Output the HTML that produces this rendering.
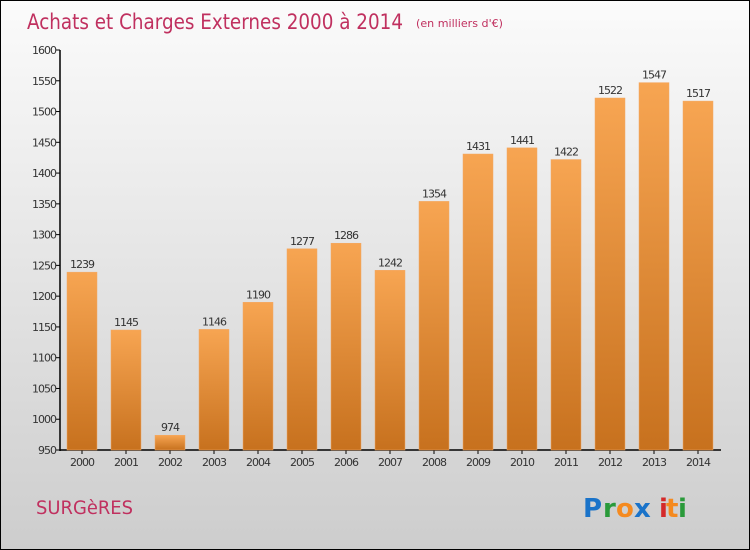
<!DOCTYPE html>
<html><head><meta charset="utf-8"><style>
html,body{margin:0;padding:0;}
body{width:750px;height:550px;overflow:hidden;font-family:"DejaVu Sans","Liberation Sans",sans-serif;}
#wrap{position:absolute;left:0;top:0;width:748px;height:548px;border:1px solid #000;background:linear-gradient(#fbfbfb,#cdcdcd);}
</style></head><body>
<div id="wrap">
<svg width="750" height="550" style="position:absolute;left:-1px;top:-1px">
<defs>
<linearGradient id="bg" x1="0" y1="0" x2="0" y2="1"><stop offset="0" stop-color="#f7a552"/><stop offset="1" stop-color="#c7711e"/></linearGradient>
</defs>
<text x="27" y="29" font-size="21" fill="#c0305f" textLength="376" lengthAdjust="spacingAndGlyphs">Achats et Charges Externes 2000 à 2014</text>
<text x="416" y="27" font-size="11" fill="#c0305f" textLength="87" lengthAdjust="spacingAndGlyphs">(en milliers d'€)</text>
<g id="axes"></g>
<g id="bars"></g>
<text x="36" y="514" font-size="19" fill="#c0305f" textLength="97" lengthAdjust="spacingAndGlyphs">SURGèRES</text>
<g font-size="26" font-family="DejaVu Sans,sans-serif" font-weight="bold">
<text x="583" y="517" fill="#1a73c9">P</text><text x="603" y="517" fill="#2a9a3a">r</text><text x="616" y="517" fill="#f58a1f">o</text><text x="634" y="517" fill="#1a73c9">x</text><text x="659" y="517" fill="#d42a2a">i</text><text x="666" y="517" fill="#f58a1f">t</text><text x="678" y="517" fill="#2a9a3a">i</text>
</g>
</svg>
</div>
<script>
const years=["2000","2001","2002","2003","2004","2005","2006","2007","2008","2009","2010","2011","2012","2013","2014"];
const values=[1239,1145,974,1146,1190,1277,1286,1242,1354,1431,1441,1422,1522,1547,1517];
const yTicks=[950,1000,1050,1100,1150,1200,1250,1300,1350,1400,1450,1500,1550,1600];
const NS="http://www.w3.org/2000/svg";
const x0=60,band=44,yMin=950,yMax=1600,yTop=50,yBot=450;
function y(v){return yBot-(v-yMin)/(yMax-yMin)*(yBot-yTop);}
function xc(i){return x0+band*i+band/2;}
function mk(tag,attrs,parent,txt){const e=document.createElementNS(NS,tag);for(const k in attrs)e.setAttribute(k,attrs[k]);if(txt!==undefined)e.textContent=txt;parent.appendChild(e);return e;}
const axes=document.getElementById('axes'),bars=document.getElementById('bars');
yTicks.forEach(t=>{
  const l=mk('line',{x1:x0-4,x2:x0,y1:y(t),y2:y(t),stroke:'#000'},axes);
  
  
  const tx=mk('text',{x:x0-4,y:y(t)+4,'text-anchor':'end','font-size':11,fill:'#333','letter-spacing':'-1'},axes,t);
  
  
});
years.forEach((yr,i)=>{
  const v=values[i];
  const r=mk('rect',{x:xc(i)-15,y:y(v),width:30,height:yBot-y(v),fill:'url(#bg)',stroke:'#f2a865','stroke-width':0.5},bars);
  
  
  const vl=mk('text',{x:xc(i),y:y(v)-4,'text-anchor':'middle','font-size':11,fill:'#333','letter-spacing':'-1'},bars,v);
  
  
  const tk=mk('line',{x1:xc(i),x2:xc(i),y1:yBot,y2:yBot+4,stroke:'#000'},axes);
  
  
  const xl=mk('text',{x:xc(i),y:yBot+16,'text-anchor':'middle','font-size':11,fill:'#333','letter-spacing':'-1'},axes,yr);
  
  
});
const ya=mk('line',{x1:x0,x2:x0,y1:yTop,y2:yBot+1,stroke:'#000','stroke-width':1.5},axes);


const xa=mk('line',{x1:x0,x2:x0+band*years.length+1,y1:yBot,y2:yBot,stroke:'#000','stroke-width':1.5},axes);


</script>
</body></html>
